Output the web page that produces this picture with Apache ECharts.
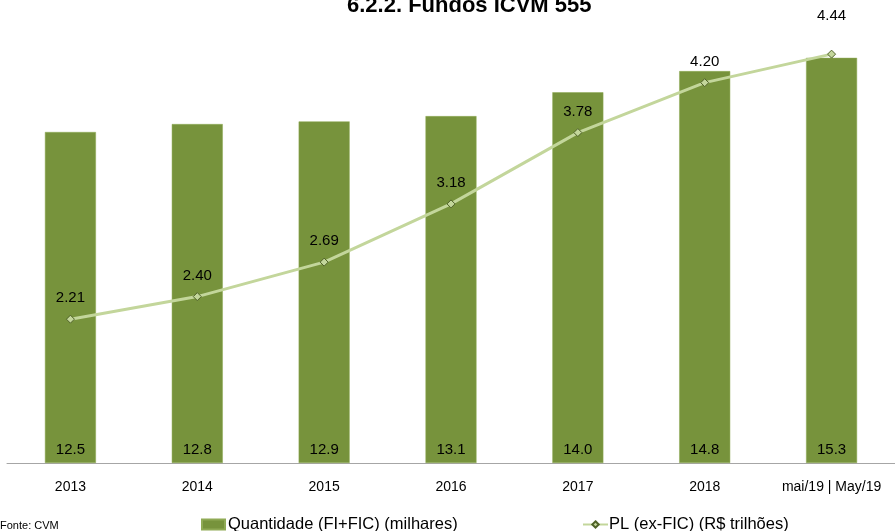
<!DOCTYPE html>
<html>
<head>
<meta charset="utf-8">
<script src="https://cdn.jsdelivr.net/npm/echarts@6/dist/echarts.min.js"></script>
<style>
  html, body { margin: 0; padding: 0; background: #fff; }
  #chart { width: 895px; height: 531px; }
</style>
</head>
<body>
<div id="chart"></div>
<script>
// dados do gráfico
var anos = ['2013', '2014', '2015', '2016', '2017', '2018', 'mai/19 | May/19'];
var quantidade = [12.5, 12.8, 12.9, 13.1, 14.0, 14.8, 15.3];
var pl = [2.21, 2.40, 2.69, 3.18, 3.78, 4.20, 4.44];

var FONT = '"Liberation Sans", Arial, sans-serif';
var BAR = '#77933c';
var LINE = '#c3d69b';

var chart = echarts.init(document.getElementById('chart'));

var plData = pl.map(function(v, i) {
    // ultimo rotulo fica acima da barra
    if (i == pl.length - 1) {
        return { value: v, label: { distance: 26 } };
    }
    return v;
});

chart.setOption({
    animation: false,
    title: {
        text: '6.2.2. Fundos ICVM 555',
        left: 342,
        top: -10,
        textStyle: { fontFamily: FONT, fontSize: 22, fontWeight: 'bold', color: '#000' }
    },
    grid: { left: 7, right: 0, top: 47, bottom: 68 },
    legend: [{
        data: ['Quantidade (FI+FIC) (milhares)'],
        icon: 'rect',
        left: 196, top: 511,
        itemWidth: 23, itemHeight: 10,
        itemGap: 0,
        textStyle: { fontFamily: FONT, fontSize: 16.5, color: '#000', padding: [0, 0, 0, -2] }
    }, {
        data: ['PL (ex-FIC) (R$ trilhões)'],
        left: 577, top: 511,
        itemWidth: 25, itemHeight: 8,
        textStyle: { fontFamily: FONT, fontSize: 16.5, color: '#000', padding: [0, 0, 0, -4] }
    }],
    graphic: [{
        type: 'text', left: 0, top: 520,
        style: { text: 'Fonte: CVM', fontFamily: FONT, fontSize: 11, fill: '#000' }
    }],
    xAxis: {
        type: 'category',
        data: anos,
        axisLine: { lineStyle: { color: '#a6a6a6', width: 1 } },
        axisTick: { show: false },
        axisLabel: { interval: 0, fontFamily: FONT, fontSize: 14, color: '#000', margin: 17 }
    },
    yAxis: [{
        type: 'value', min: 0, max: 15.71, show: false, splitLine: { show: false }
    }, {
        type: 'value', min: 1, max: 4.5, show: false, splitLine: { show: false }
    }],
    series: [{
        name: 'Quantidade (FI+FIC) (milhares)',
        type: 'bar',
        data: quantidade,
        barWidth: 51,
        itemStyle: { color: BAR, borderColor: '#8faa55', borderWidth: 0.5 },
        label: {
            show: true,
            position: 'insideBottom',
            distance: 6,
            formatter: function(p) { return p.value.toFixed(1); },
            fontFamily: FONT, fontSize: 15, color: '#000'
        }
    }, {
        name: 'PL (ex-FIC) (R$ trilhões)',
        type: 'line',
        yAxisIndex: 1,
        data: plData,
        symbol: 'diamond',
        symbolSize: 8,
        lineStyle: { color: LINE, width: 3 },
        itemStyle: { color: LINE, borderColor: '#4f6228', borderWidth: 1 },
        label: {
            show: true,
            position: 'top',
            distance: 9,
            formatter: function(p) { return p.value.toFixed(2); },
            fontFamily: FONT, fontSize: 15, color: '#000'
        }
    }]
});
</script>
</body>
</html>
